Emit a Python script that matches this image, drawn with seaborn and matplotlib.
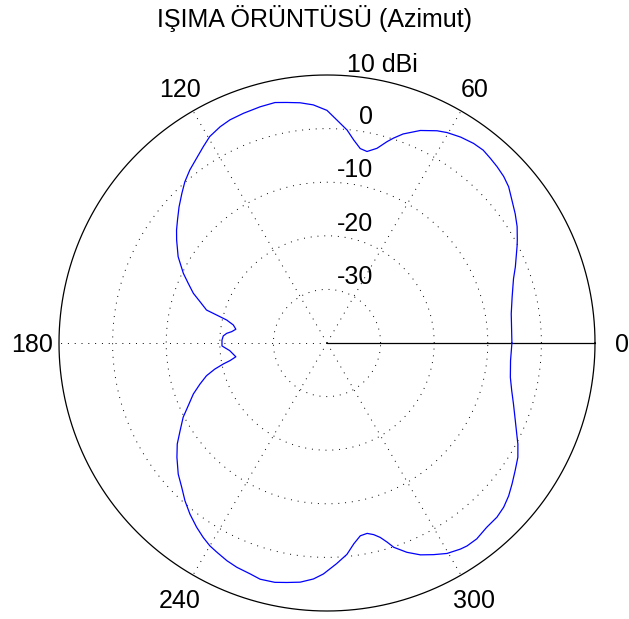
import numpy as np
import pandas as pd
import matplotlib
matplotlib.use("Agg")
import matplotlib.pyplot as plt
import seaborn as sns

# Azimuth radiation pattern (gain in dBi vs azimuth angle in degrees)
angles_deg = [0, 9, 14, 19, 22, 27, 28.5, 31.5, 34.5, 37.7, 40.7, 43.3, 46, 48.5, 51,
              53.7, 57, 60.3, 62.6, 66.3, 70, 72, 73.4, 75.6, 78.2, 80.3, 82.5, 84.6,
              87.4, 90, 93.3, 96.4, 99.5, 102.2, 105.8, 110, 113.5, 116.3, 119.6,
              122.2, 125.2, 128.4, 131.4, 134.1, 137.4, 140.6, 143.1, 145.6, 149.9,
              154.1, 156.7, 159.6, 162, 164.7, 165.8, 167.1, 169.1, 171.4, 173.2,
              174.5, 176.1, 178.4,
              181.6, 184.5, 188.6, 190.3, 191.4, 193.1, 195.2, 197.9, 200.9, 204.3,
              207.3, 210.8, 214, 217.3, 221.4, 224.8, 228, 231.3, 234.7, 237.5, 240,
              242.2, 245.3, 248.1, 251.6, 254.2, 257.7, 260.5, 263.6, 266.7, 269.1,
              272.5, 275.4, 277.6, 279.8, 281.9, 283.7, 285.3, 286.8, 288.1, 290.9,
              293.8, 296.7, 299.7, 302.9, 304.6, 307.4, 310.9, 314.3, 317.1, 319.9,
              322.7, 325.9, 329.1, 332.1, 333.6, 337.6, 341.9, 345.5, 349.4, 354.5,
              360]
gain_dbi = [-5.5, -5.2, -4.4, -3.2, -2.1, -0.2, 0.4, 1.6, 2.6, 3.6, 4.7, 5.3, 5.7, 6.0,
            6.3, 6.2, 5.8, 5.2, 4.6, 3.3, 1.5, 0.2, -0.8, -2.5, -3.5, -3.2, -1.8, -0.1,
            1.6, 3.4, 4.5, 5.1, 5.5, 5.9, 5.8, 5.6, 5.4, 5.0, 4.3,
            3.3, 2.2, 1.2, 0.1, -1.1, -2.5, -3.9, -4.9, -6.0, -7.9,
            -10.2, -11.8, -13.4, -15.1, -16.7, -18.8, -20.8, -22.2, -22.8, -22.1,
            -21.2, -20.6, -20.4,
            -20.4, -21.8, -22.8, -21.6, -20.3, -18.5, -16.7, -15.1, -13.3, -11.6,
            -9.8, -8.1, -6.3, -4.8, -3.0, -1.8, -0.4, 0.9, 2.1, 3.0, 3.7,
            4.1, 4.7, 5.1, 5.4, 5.8, 5.7, 5.3, 4.9, 4.1, 3.1,
            1.2, -0.4, -2.2, -3.5, -3.7, -3.2, -2.4, -1.2, 0.1, 1.8,
            3.2, 4.2, 5.2, 5.8, 6.0, 6.0, 5.5, 5.4, 5.0, 4.3,
            3.4, 2.4, 1.5, 0.3, -0.4, -2.0, -3.4, -4.4, -5.2, -5.6,
            -5.5]

ring_levels = [-30, -20, -10, 0]
ring_labels = ["-30", "-20", "-10", "0"]
r_min, r_max = -40, 10
outer_label = "10 dBi"
spoke_angles = [0, 60, 120, 180, 240, 300]
angle_labels = ["0", "60", "120", "180", "240", "300"]
title = "IŞIMA ÖRÜNTÜSÜ (Azimut)"

sns.set_style("white")
plt.rcParams["font.family"] = ["Liberation Sans", "DejaVu Sans"]
plt.rcParams["text.color"] = "black"

fig = plt.figure(figsize=(6.29, 6.19), dpi=100)
fig.patch.set_facecolor("white")
ax = fig.add_axes([59 / 629, 8 / 619, 536 / 629, 536 / 619], projection="polar")
ax.set_ylim(r_min, r_max)
ax.grid(False)
ax.set_xticks([])
ax.set_yticks([])
ax.spines["polar"].set_visible(False)

dotted = dict(color="black", lw=0.7, ls=(0, (1, 6)), clip_on=False, zorder=1)
th = np.linspace(0, 2 * np.pi, 721)
for v in ring_levels:
    ax.plot(th, np.full_like(th, v), **dotted)
for a in spoke_angles:
    ax.plot([np.deg2rad(a)] * 2, [r_min, r_max], **dotted)

# solid outer ring and zero-degree reference line
ax.plot(th, np.full_like(th, r_max), color="black", lw=0.9, clip_on=False, zorder=2)
ax.plot([0, 0], [r_min, r_max], color="black", lw=0.9, clip_on=False, zorder=2)

df = pd.DataFrame({"theta": np.deg2rad(angles_deg), "gain": gain_dbi})
sns.lineplot(data=df, x="theta", y="gain", ax=ax, sort=False, estimator=None,
             color="blue", lw=0.9, zorder=3)
ax.set_xlabel("")
ax.set_ylabel("")
ax.set_ylim(r_min, r_max)

fs = 18
for v, lab in zip(ring_levels, ring_labels):
    ax.annotate(lab, xy=(np.pi / 2, v), xytext=(33, 3.6), textcoords="offset points",
                ha="right", va="baseline", fontsize=fs, color="black")
ax.annotate(outer_label, xy=(np.pi / 2, r_max), xytext=(14.5, 2.5),
            textcoords="offset points", ha="left", va="baseline", fontsize=fs,
            color="black", annotation_clip=False)

r_lab = r_min + 1.1 * (r_max - r_min)
for a, lab in zip(spoke_angles, angle_labels):
    ax.text(np.deg2rad(a), r_lab, lab, ha="center", va="center_baseline", fontsize=fs,
            color="black", clip_on=False)

fig.text(315 / 629, 1 - 27 / 619, title, ha="center", va="baseline", fontsize=fs,
         color="black")

fig.savefig("out.png", dpi=100, facecolor="white")
